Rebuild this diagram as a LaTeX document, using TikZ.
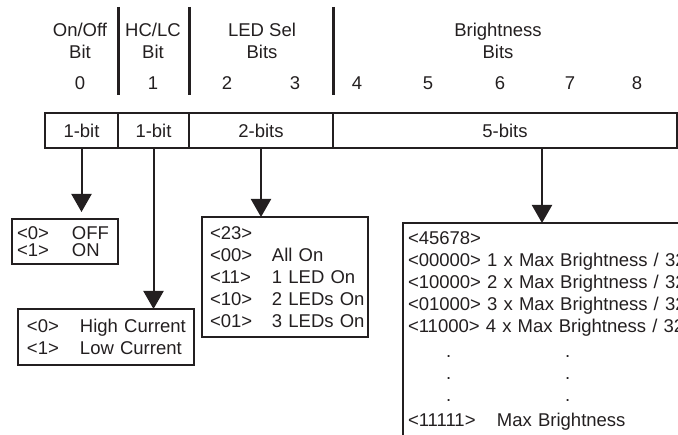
\documentclass[tikz,border=0pt]{standalone}
\usepackage{fontspec}
\setmainfont{Liberation Sans}
\usepackage{xcolor}
\usepackage{tikz}
\usetikzlibrary{arrows.meta, positioning, calc}
\definecolor{InkGray}{RGB}{35, 31, 32}
\setlength{\parindent}{0pt}

\newcommand{\keycol}[3]{\mbox{\makebox[#1][l]{#2}#3}}
\newcommand{\dotrow}{\hspace*{38pt}.\hspace*{114pt}.}

\begin{document}
\begin{tikzpicture}[
  x=1pt, y=-1pt,
  every node/.style={text=InkGray, font=\fontsize{18.5}{22}\selectfont, outer sep=0pt},
  hdr/.style={align=center, inner sep=0pt},
  bitnum/.style={inner sep=0pt},
  field/.style={draw=InkGray, line width=2.5pt, minimum height=35pt,
                anchor=north west, inner sep=0pt},
  valbox/.style={draw=InkGray, line width=2.5pt, anchor=north west,
                 align=left, inner ysep=6pt},
  sep/.style={draw=InkGray, line width=3pt},
  arr/.style={draw=InkGray, line width=2pt, -{Triangle[length=18pt, width=20pt]}}
]
  \useasboundingbox (0,0) rectangle (678,435);
  \clip (0,0) rectangle (678,435);

  % header labels and bit numbers
  \node[hdr] (l0) at (80,41)  {On/Off\\Bit};
  \node[hdr] (l1) at (153,41) {HC/LC\\Bit};
  \node[hdr] (l2) at (262,41) {LED Sel\\Bits};
  \node[hdr] (l3) at (498,41) {Brightness\\Bits};
  \foreach \b/\x in {0/80, 1/153, 2/227, 3/295, 4/357, 5/428, 6/500, 7/570, 8/637}
    \node[bitnum] (n\b) at (\x,83) {\b};
  \foreach \x in {118, 189, 333}
    \draw[sep] (\x,7) -- (\x,95);

  % bit fields
  \node[field, minimum width=73pt]  (f0) at (45,113)  {1-bit};
  \node[field, minimum width=71pt]  (f1) at (118,113) {1-bit};
  \node[field, minimum width=144pt] (f2) at (189,113) {2-bits};
  \node[field, minimum width=344pt] (f3) at (333,113) {5-bits};

  % value boxes
  \node[valbox, text width=96pt, inner xsep=5pt, minimum height=45pt,
        font=\fontsize{18.5}{17}\selectfont] (off) at (12,219)
    {\keycol{55pt}{<0>}{OFF}\\\keycol{55pt}{<1>}{ON}};
  \node[valbox, text width=158pt, inner xsep=9pt, minimum height=56pt] (hc) at (18,309)
    {\keycol{53pt}{<0>}{High Current}\\\keycol{53pt}{<1>}{Low Current}};
  \node[valbox, text width=150pt, inner xsep=8pt, minimum height=120pt] (led) at (202,217)
    {<23>\\
     \keycol{62pt}{<00>}{All On}\\
     \keycol{62pt}{<11>}{1 LED On}\\
     \keycol{62pt}{<10>}{2 LEDs On}\\
     \keycol{62pt}{<01>}{3 LEDs On}};
  \node[valbox, text width=290pt, inner xsep=5pt, inner ysep=9pt] (bri) at (403,223)
    {<45678>\\
     <00000> 1 x Max Brightness / 32\\
     <10000> 2 x Max Brightness / 32\\
     <01000> 3 x Max Brightness / 32\\
     <11000> 4 x Max Brightness / 32\\[3pt]
     \dotrow\\
     \dotrow\\
     \dotrow\\[3pt]
     \keycol{89pt}{<11111>}{Max Brightness}};

  % arrows
  \draw[arr, shorten >=7pt] (f0.south) -- (f0.south |- off.north);
  \draw[arr] (f1.south) -- (f1.south |- hc.north);
  \draw[arr] (f2.south) -- (f2.south |- led.north);
  \coordinate (f3tap) at ([xshift=37pt]f3.south);
  \draw[arr] (f3tap) -- (f3tap |- bri.north);
\end{tikzpicture}
\end{document}
